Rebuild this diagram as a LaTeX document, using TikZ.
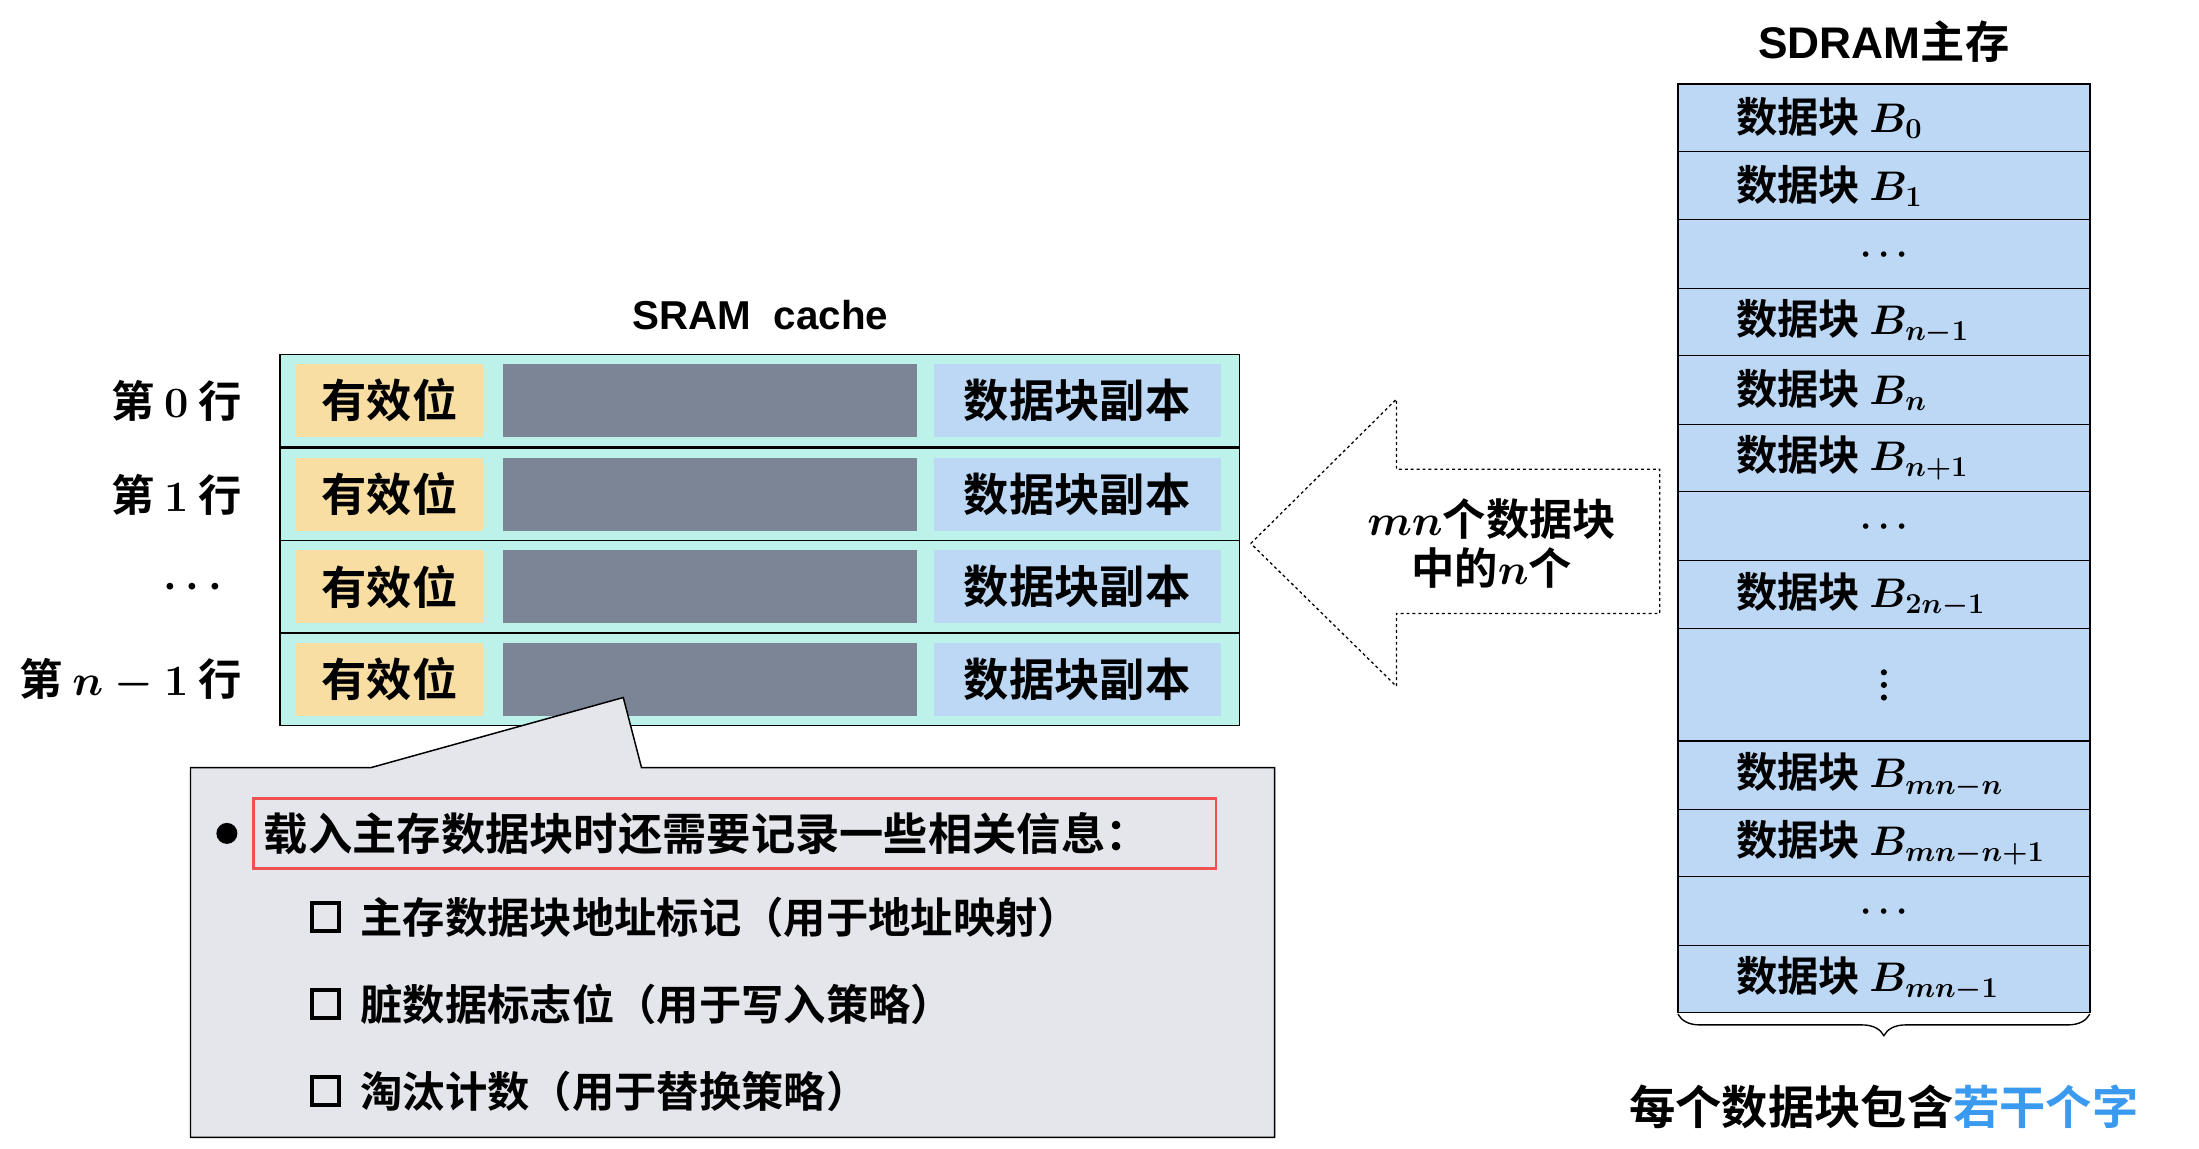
\RequirePackage{fix-cm}
\documentclass[tikz,border=0pt]{standalone}
\usepackage{fontspec}
\usepackage{bm}
\setmainfont{Noto Sans CJK SC}[BoldFont={Noto Sans CJK SC Bold}]
\newfontfamily\cjkb{Noto Sans CJK SC Bold}
\newfontfamily\lsans{Liberation Sans}[BoldFont={Liberation Sans Bold}]
\usetikzlibrary{decorations.pathreplacing}
\definecolor{cyanbg}{HTML}{BDF2EA}
\definecolor{yel}{HTML}{F8DEA2}
\definecolor{gry}{HTML}{7B8596}
\definecolor{blu}{HTML}{BDD8F4}
\definecolor{callg}{HTML}{E4E6EC}
\definecolor{redb}{HTML}{F05050}
\definecolor{bluet}{HTML}{3A9AF0}
\tikzset{
  big/.style={font=\cjkb\fontsize{46}{50}\selectfont\boldmath},
  mid/.style={font=\cjkb\fontsize{44}{50}\selectfont\boldmath},
  rowlab/.style={anchor=east,font=\cjkb\fontsize{44}{50}\selectfont\boldmath},
  memtext/.style={anchor=west,font=\cjkb\fontsize{42}{48}\selectfont\boldmath},
}
\begin{document}
\begin{tikzpicture}[x=1.4233pt,y=-1.4233pt]
\useasboundingbox[fill=white] (0,0) rectangle (1570,820.3);
% SRAM cache
\node[font=\lsans\bfseries\fontsize{41}{46}\selectfont] (sramt) at (543,225) {SRAM\ \ cache};
\foreach \i/\t/\lab in {0/253/{第 $0$ 行},1/320/{第 $1$ 行},2/386/{$\cdots$\ \ \ },3/452/{第 $n-1$ 行}}{
  \pgfmathsetmacro{\b}{\t+66}
  \fill[cyanbg] (200,\t) rectangle (885,\b);
  \draw[line width=1.5pt] (200,\t) rectangle (885,\b);
  \fill[yel] (211,\t+7) rectangle (345,\b-7);
  \fill[gry] (359,\t+7) rectangle (655,\b-7);
  \fill[blu] (667,\t+7) rectangle (872,\b-7);
  \node[big] (v\i) at (278,\t+33) {有效位};
  \node[big] (c\i) at (769,\t+33) {数据块副本};
  \node[rowlab] (r\i) at (175,\t+33) {\lab};
}
% callout
\fill[callg,draw=black,line width=1.5pt] (136,548) -- (265,548) -- (445,498) -- (458,548) -- (910,548) -- (910,812) -- (136,812) -- cycle;
\draw[redb,line width=2.5pt] (181,570) rectangle (868,620);
\fill (162,595) circle (7.5);
\node[anchor=west,font=\cjkb\fontsize{45}{50}\selectfont] (head) at (186,595) {载入主存数据块时还需要记录一些相关信息：};
\foreach \y/\t in {655/{主存数据块地址标记（用于地址映射）},717/{脏数据标志位（用于写入策略）},779/{淘汰计数（用于替换策略）}}{
  \draw[line width=4pt] (223,\y-10) rectangle (242,\y+10);
  \node[anchor=west,font=\cjkb\fontsize{43}{48}\selectfont] at (255,\y) {\t};
}
% arrow
\draw[dashed,line width=1.3pt] (893,388) -- (997,285) -- (997,335) -- (1185,335) -- (1185,438) -- (997,438) -- (997,490) -- cycle;
\node[mid,align=center] (at) at (1065,388) {$mn$个数据块\\中的$n$个};
% SDRAM
\node[font=\fontsize{45}{48}\selectfont] (sdt) at (1345,30) {{\lsans\bfseries SDRAM}{\cjkb 主存}};
\foreach \t/\b/\lab in {60/108/{数据块 $B_{0}$},108/157/{数据块 $B_{1}$},157/206/{},206/254/{数据块 $B_{n-1}$},254/303/{数据块 $B_{n}$},303/351/{数据块 $B_{n+1}$},351/400/{},400/449/{数据块 $B_{2n-1}$},449/529/{},529/578/{数据块 $B_{mn-n}$},578/626/{数据块 $B_{mn-n+1}$},626/675/{},675/723/{数据块 $B_{mn-1}$}}{
  \fill[blu,draw=black,line width=1.2pt] (1198,\t) rectangle (1492,\b);
  \node[memtext] at (1237,{(\t+\b)/2}) {\lab};
}
\foreach \y in {182,376,651}{\node[font=\fontsize{36}{36}\selectfont\boldmath] at (1345,\y) {$\cdots$};}
\foreach \d in {-9,0,9}{\fill (1345,489+\d) circle (2.2);}
\draw[line width=1.5pt] (1198,60) rectangle (1492,723);
\draw[decorate,decoration={brace,amplitude=22pt,mirror},line width=1.4pt] (1198,724) -- (1492,724);
\node[font=\cjkb\fontsize{47}{50}\selectfont] (bt) at (1345,790) {每个数据块包含\textcolor{bluet}{若干个字}};
\end{tikzpicture}
\end{document}
